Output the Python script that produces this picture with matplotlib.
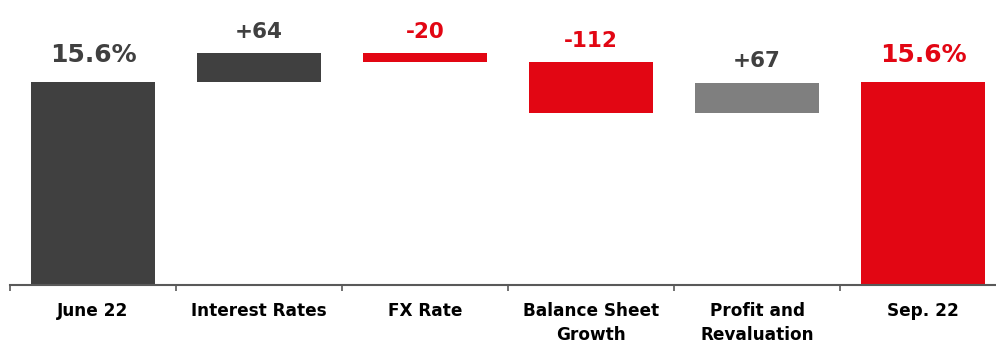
import matplotlib
matplotlib.use("Agg")
import matplotlib.pyplot as plt
import numpy as np

# CET1 ratio bridge, June 22 -> Sep. 22 (movements in basis points)
categories = ["June 22", "Interest Rates", "FX Rate", "Balance Sheet\nGrowth",
              "Profit and\nRevaluation", "Sep. 22"]
start_pct = 15.6
end_pct = 15.6
deltas_bp = [64, -20, -112, 67]

DARK = "#404040"
RED = "#E20613"
GREY = "#7F7F7F"
bar_colors = [DARK, DARK, RED, RED, GREY, RED]
label_colors = [DARK, DARK, RED, RED, DARK, RED]

plt.rcParams["font.family"] = ["DejaVu Sans"]
plt.rcParams["font.weight"] = "bold"

fig = plt.figure(figsize=(9.96, 3.40), dpi=100)
ax = fig.add_axes([10 / 996, 55 / 340, 996 / 996, 285 / 340])

x = np.arange(len(categories))
width = 0.753

# floating segments of the waterfall
bottoms, heights = [0.0], [start_pct]
level = start_pct
for d in deltas_bp:
    step = d / 100.0
    bottoms.append(min(level, level + step))
    heights.append(abs(step))
    level += step
bottoms.append(0.0)
heights.append(end_pct)

ax.bar(x, heights, bottom=bottoms, width=width, color=bar_colors,
       edgecolor="none", zorder=2)

# value labels above every bar
texts = [f"{start_pct:.1f}%"] + [f"{d:+d}" for d in deltas_bp] + [f"{end_pct:.1f}%"]
for i, (b, h, t, c) in enumerate(zip(bottoms, heights, texts, label_colors)):
    is_total = i in (0, len(categories) - 1)
    ax.annotate(t, (x[i], b + h), xytext=(0, 11 if is_total else 8),
                textcoords="offset points", ha="center", va="bottom",
                color=c, fontsize=18 if is_total else 15.5, fontweight="bold")

ax.set_xlim(-0.5, len(categories) - 0.5)
ax.set_ylim(11.15, 17.40)

for s in ("top", "right", "left"):
    ax.spines[s].set_visible(False)
ax.spines["bottom"].set_color("#595959")
ax.spines["bottom"].set_linewidth(1.5)
ax.set_yticks([])

ax.set_xticks(x)
ax.set_xticklabels(categories, fontsize=12.2, fontweight="bold", color="black",
                   linespacing=1.45)
ax.tick_params(axis="x", which="major", length=0, pad=12)
ax.set_xticks(np.arange(-0.5, len(categories)), minor=True)
ax.tick_params(axis="x", which="minor", length=4, width=1.2, color="#595959",
               direction="out")

fig.savefig("out.png", dpi=100, facecolor="white")
